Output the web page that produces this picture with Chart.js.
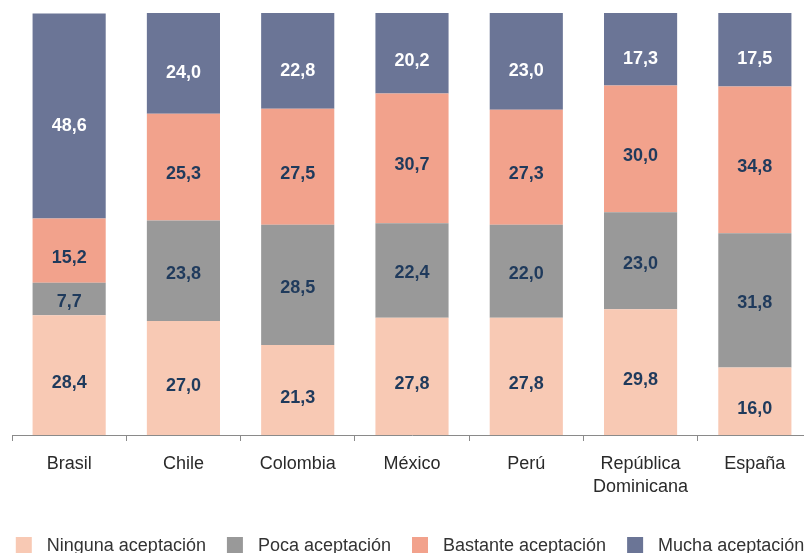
<!DOCTYPE html>
<html><head><meta charset="utf-8">
<script src="https://cdn.jsdelivr.net/npm/chart.js@4.4.1/dist/chart.umd.min.js"></script>
<style>
html,body{margin:0;padding:0;background:#fff;overflow:hidden;}
#wrap{width:804px;height:553px;overflow:hidden;position:relative;}
</style></head><body>
<div id="wrap"><canvas id="c" width="830" height="553" style="width:830px;height:553px"></canvas></div>
<script>
const categories = ['Brasil','Chile','Colombia','México','Perú',['República','Dominicana'],'España'];
const seriesNames = ['Ninguna aceptación','Poca aceptación','Bastante aceptación','Mucha aceptación'];
const ninguna  = [28.4, 27.0, 21.3, 27.8, 27.8, 29.8, 16.0];
const poca     = [7.7, 23.8, 28.5, 22.4, 22.0, 23.0, 31.8];
const bastante = [15.2, 25.3, 27.5, 30.7, 27.3, 30.0, 34.8];
const mucha    = [48.6, 24.0, 22.8, 20.2, 23.0, 17.3, 17.5];
const colors = ['#f8c9b4','#999999','#f2a28c','#6b7596'];
const labelColors = ['#1f3a5c','#1f3a5c','#1f3a5c','#ffffff'];
const labelShift = [8, 3, 7, 10];
const FONT = '"Liberation Sans", Arial, sans-serif';

const valueLabels = {
  id:'valueLabels',
  afterDatasetsDraw(chart){
    const ctx = chart.ctx;
    ctx.save();
    ctx.font = 'bold 18px ' + FONT;
    ctx.textAlign = 'center';
    ctx.textBaseline = 'middle';
    chart.data.datasets.forEach((ds, di) => {
      const meta = chart.getDatasetMeta(di);
      meta.data.forEach((bar, i) => {
        const v = ds.data[i];
        const p = bar.getProps(['x','y','base'], true);
        const cy = (p.y + p.base) / 2 + labelShift[di];
        ctx.fillStyle = labelColors[di];
        ctx.fillText(v.toFixed(1).replace('.', ','), p.x, cy);
      });
    });
    ctx.restore();
  }
};

// Legend drawn under the axis
const bottomLegend = {
  id:'bottomLegend',
  afterDraw(chart){
    const ctx = chart.ctx;
    ctx.save();
    ctx.font = '18px ' + FONT;
    ctx.textBaseline = 'middle';
    ctx.textAlign = 'left';
    const box = 16, gapBT = 15, gapItems = 21;
    const widths = seriesNames.map(s => box + gapBT + ctx.measureText(s).width);
    const total = widths.reduce((a,b)=>a+b,0) + gapItems * (seriesNames.length - 1);
    const cx = (chart.chartArea.left + chart.chartArea.right) / 2 - 2;
    let x = cx - total / 2;
    const yc = 545;
    seriesNames.forEach((s, i) => {
      ctx.fillStyle = colors[i];
      ctx.fillRect(x, yc - box/2, box, box);
      ctx.fillStyle = '#333';
      ctx.fillText(s, x + box + gapBT, yc + 1);
      x += widths[i] + gapItems;
    });
    ctx.restore();
  }
};

const datasets = [ninguna, poca, bastante, mucha].map((d, i) => ({
  label: seriesNames[i], data: d, backgroundColor: colors[i], borderWidth: 0,
  barPercentage: 0.64, categoryPercentage: 1.0
}));

new Chart(document.getElementById('c'), {
  type: 'bar',
  data: { labels: categories, datasets },
  options: {
    responsive: false, animation: false,
    layout: { padding: { left: 12, right: 18, top: 13, bottom: 48 } },
    plugins: {
      tooltip: { enabled: false },
      legend: { display: false }
    },
    scales: {
      x: {
        stacked: true,
        grid: { display: true, drawOnChartArea: false, drawTicks: true, tickLength: 6, offset: true, color: '#8a8a8a' },
        border: { display: true, color: '#8a8a8a' },
        ticks: { color: '#2a2a2a', padding: 12, font: { family: FONT, size: 18, lineHeight: 1.27 } },
        afterFit(scale){ scale.height = 70; }
      },
      y: {
        stacked: true, display: false, min: 0, max: 100
      }
    }
  },
  plugins: [valueLabels, bottomLegend]
});
</script>
</body></html>
